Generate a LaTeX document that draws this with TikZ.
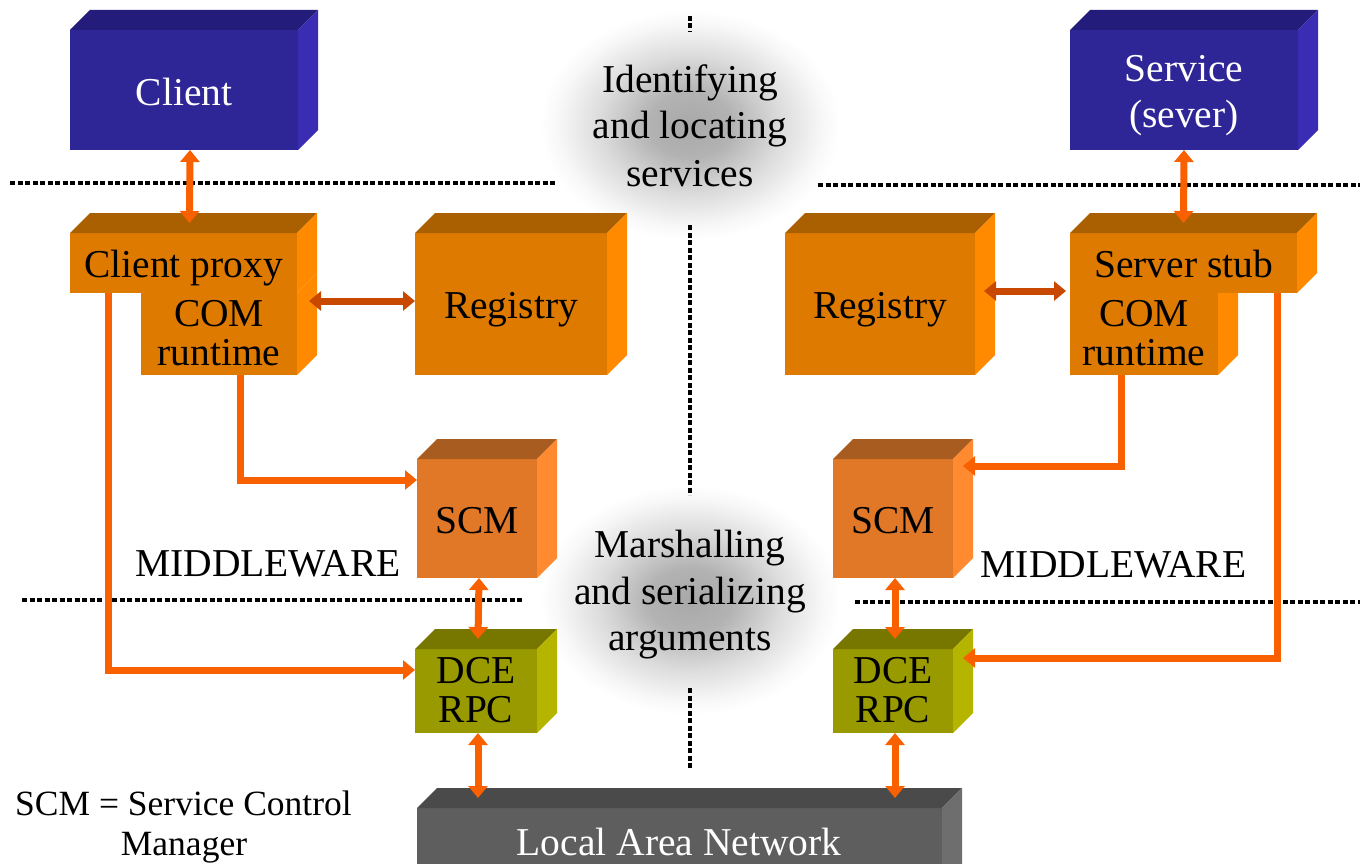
\documentclass[tikz,border=0pt]{standalone}
\usepackage{fontspec}
\setmainfont{Liberation Serif}
\usetikzlibrary{arrows.meta}
\definecolor{bluefront}{HTML}{2E2596}
\definecolor{bluetop}{HTML}{241C7A}
\definecolor{blueside}{HTML}{3A2DB4}
\definecolor{orfront}{HTML}{DE7A00}
\definecolor{ortop}{HTML}{AA6000}
\definecolor{orside}{HTML}{FF8A00}
\definecolor{scmfront}{HTML}{E07828}
\definecolor{scmtop}{HTML}{A85C20}
\definecolor{scmside}{HTML}{FF8A30}
\definecolor{dcefront}{HTML}{999900}
\definecolor{dcetop}{HTML}{777700}
\definecolor{dceside}{HTML}{B5B500}
\definecolor{lanfront}{HTML}{5E5E5E}
\definecolor{lantop}{HTML}{4A4A4A}
\definecolor{lanside}{HTML}{6E6E6E}
\definecolor{arrowcol}{HTML}{F86000}
\definecolor{regarrow}{HTML}{C84800}
\pgfdeclareradialshading{glow}{\pgfpoint{0bp}{0bp}}{color(0bp)=(black!34); color(7bp)=(black!30); color(15bp)=(black!14); color(22bp)=(black!3); color(25bp)=(white); color(50bp)=(white)}
\newcommand\topf[2]{\fill[#2] (#1.north west) -- ++(20,-20) -- ([shift={(20,-20)}]#1.north east) -- (#1.north east) -- cycle;}
\newcommand\sidef[2]{\fill[#2] (#1.north east) -- ++(20,-20) -- ([shift={(20,-20)}]#1.south east) -- (#1.south east) -- cycle;}
\begin{document}
\begin{tikzpicture}[x=1pt,y=-1pt,
  box/.style={rectangle, inner sep=0pt, outer sep=0pt, draw=none},
  lbl/.style={inner sep=0pt, outer sep=0pt, anchor=base, font=\fontsize{39.5}{44}\selectfont},
  wlbl/.style={lbl, text=white},
  small/.style={inner sep=0pt, outer sep=0pt, anchor=base, font=\fontsize{35.5}{40}\selectfont},
  conn/.style={draw=arrowcol, line width=7pt},
  regconn/.style={draw=regarrow, line width=7pt},
  sepline/.style={line width=4.5pt, dash pattern=on 5pt off 2.5pt},
  >={Triangle[width=19pt,length=12pt]}
]
\useasboundingbox (0,0) rectangle (1360,864);
\clip (0,0) rectangle (1360,864);
\fill[white] (0,0) rectangle (1360,864);

% glows
\shade[shading=glow] (690,125) ellipse [x radius=150, y radius=115];
\shade[shading=glow] (690,600) ellipse [x radius=150, y radius=115];

% separator lines
\coordinate (ul1) at (10,183);  \coordinate (ul2) at (555,183);
\coordinate (ur1) at (818,185); \coordinate (ur2) at (1360,185);
\coordinate (ll1) at (22,600);  \coordinate (ll2) at (522,600);
\coordinate (lr1) at (855,602); \coordinate (lr2) at (1360,602);
\coordinate (v1) at (690,16);   \coordinate (v2) at (690,32);
\coordinate (v3) at (690,225);  \coordinate (v4) at (690,495);
\coordinate (v5) at (690,688);  \coordinate (v6) at (690,770);
\draw[sepline] (ul1) -- (ul2);
\draw[sepline] (ur1) -- (ur2);
\draw[sepline] (ll1) -- (ll2);
\draw[sepline] (lr1) -- (lr2);
\draw[sepline] (v1) -- (v2);
\draw[sepline] (v3) -- (v4);
\draw[sepline] (v5) -- (v6);

% boxes
\node[box, fill=bluefront, minimum width=228pt, minimum height=120pt] (client) at (184,90) {};
\topf{client}{bluetop}\sidef{client}{blueside}
\node[box, fill=bluefront, minimum width=228pt, minimum height=120pt] (service) at (1184,90) {};
\topf{service}{bluetop}\sidef{service}{blueside}

\node[box, fill=orfront, minimum width=156pt, minimum height=82pt] (comL) at (219,334) {};
\sidef{comL}{orside}
\node[box, fill=orfront, minimum width=227pt, minimum height=60pt] (proxy) at (183.5,263) {};
\topf{proxy}{ortop}\sidef{proxy}{orside}

\node[box, fill=orfront, minimum width=192pt, minimum height=142pt] (regL) at (511,304) {};
\topf{regL}{ortop}\sidef{regL}{orside}

\node[box, fill=orfront, minimum width=148pt, minimum height=82pt] (comR) at (1144,334) {};
\sidef{comR}{orside}
\node[box, fill=orfront, minimum width=227pt, minimum height=60pt] (stub) at (1183.5,263) {};
\topf{stub}{ortop}\sidef{stub}{orside}

\node[box, fill=orfront, minimum width=190pt, minimum height=142pt] (regR) at (880,304) {};
\topf{regR}{ortop}\sidef{regR}{orside}

\node[box, fill=scmfront, minimum width=120pt, minimum height=119pt] (scmL) at (477,518.5) {};
\topf{scmL}{scmtop}\sidef{scmL}{scmside}
\node[box, fill=scmfront, minimum width=120pt, minimum height=119pt] (scmR) at (893,518.5) {};
\topf{scmR}{scmtop}\sidef{scmR}{scmside}

\node[box, fill=dcefront, minimum width=122pt, minimum height=84pt] (dceL) at (476,691) {};
\topf{dceL}{dcetop}\sidef{dceL}{dceside}
\node[box, fill=dcefront, minimum width=120pt, minimum height=84pt] (dceR) at (893,691) {};
\topf{dceR}{dcetop}\sidef{dceR}{dceside}

\node[box, fill=lanfront, minimum width=525pt, minimum height=84pt] (lan) at (679.5,850) {};
\topf{lan}{lantop}\sidef{lan}{lanside}

% connectors
\draw[conn,<->] ([xshift=6pt]client.south) -- ([xshift=6pt,yshift=10pt]proxy.north);
\draw[conn,<->] (service.south) -- ([yshift=10pt]stub.north);
\draw[regconn,<->] ([xshift=12pt]comL.east |- 0,301) -- (regL.west |- 0,301);
\draw[regconn,<->] ([xshift=9pt]regR.east |- 0,291) -- ([xshift=-4pt]stub.west |- 0,291);
\draw[conn,->] (comL.south -| 240,0) |- (scmL.west |- 0,480);
\draw[conn,->] (proxy.south -| 108,0) |- (dceL.west |- 0,670);
\draw[conn,->] (comR.south -| 1121,0) |- ([xshift=10pt]scmR.east |- 0,466);
\draw[conn,->] (stub.south -| 1277,0) |- ([xshift=10pt]dceR.east |- 0,658);
\draw[conn,<->] ([xshift=2pt]scmL.south) -- ([xshift=2pt,yshift=10pt]dceL.north);
\draw[conn,<->] ([xshift=2pt]dceL.south) -- ([xshift=2pt,yshift=10pt]dceL.south |- lan.north);
\draw[conn,<->] ([xshift=2pt]scmR.south) -- ([xshift=2pt,yshift=10pt]dceR.north);
\draw[conn,<->] ([xshift=2pt]dceR.south) -- ([xshift=2pt,yshift=10pt]dceR.south |- lan.north);

% labels
\node[wlbl] (tclient) at (184,106) {Client};
\node[wlbl] (tserv1) at (1184,82) {Service};
\node[wlbl] (tserv2) at (1184,128) {(sever)};
\node[lbl] (tproxy) at (183.5,277) {Client proxy};
\node[lbl] (tcomL1) at (219,326) {COM};
\node[lbl] (tcomL2) at (219,365) {runtime};
\node[lbl] (tregL) at (511,318) {Registry};
\node[lbl] (tstub) at (1183.5,277) {Server stub};
\node[lbl] (tcomR1) at (1144,326) {COM};
\node[lbl] (tcomR2) at (1144,365) {runtime};
\node[lbl] (tregR) at (880,318) {Registry};
\node[lbl] (tscmL) at (477,533) {SCM};
\node[lbl] (tscmR) at (893,533) {SCM};
\node[lbl] (tdceL1) at (476,683) {DCE};
\node[lbl] (tdceL2) at (476,722) {RPC};
\node[lbl] (tdceR1) at (893,683) {DCE};
\node[lbl] (tdceR2) at (893,722) {RPC};
\node[wlbl] (tlan) at (679,855) {Local Area Network};
\node[lbl] (tmidL) at (268,576) {MIDDLEWARE};
\node[lbl] (tmidR) at (1113.5,577) {MIDDLEWARE};
\node[lbl] (tid1) at (690,93) {Identifying};
\node[lbl] (tid2) at (690,139) {and locating};
\node[lbl] (tid3) at (690,186) {services};
\node[lbl] (tma1) at (690,557) {Marshalling};
\node[lbl] (tma2) at (690,604) {and serializing};
\node[lbl] (tma3) at (690,650) {arguments};
\node[small] (tfoot1) at (183.5,815) {SCM = Service Control};
\node[small] (tfoot2) at (184,855) {Manager};
\end{tikzpicture}
\end{document}
